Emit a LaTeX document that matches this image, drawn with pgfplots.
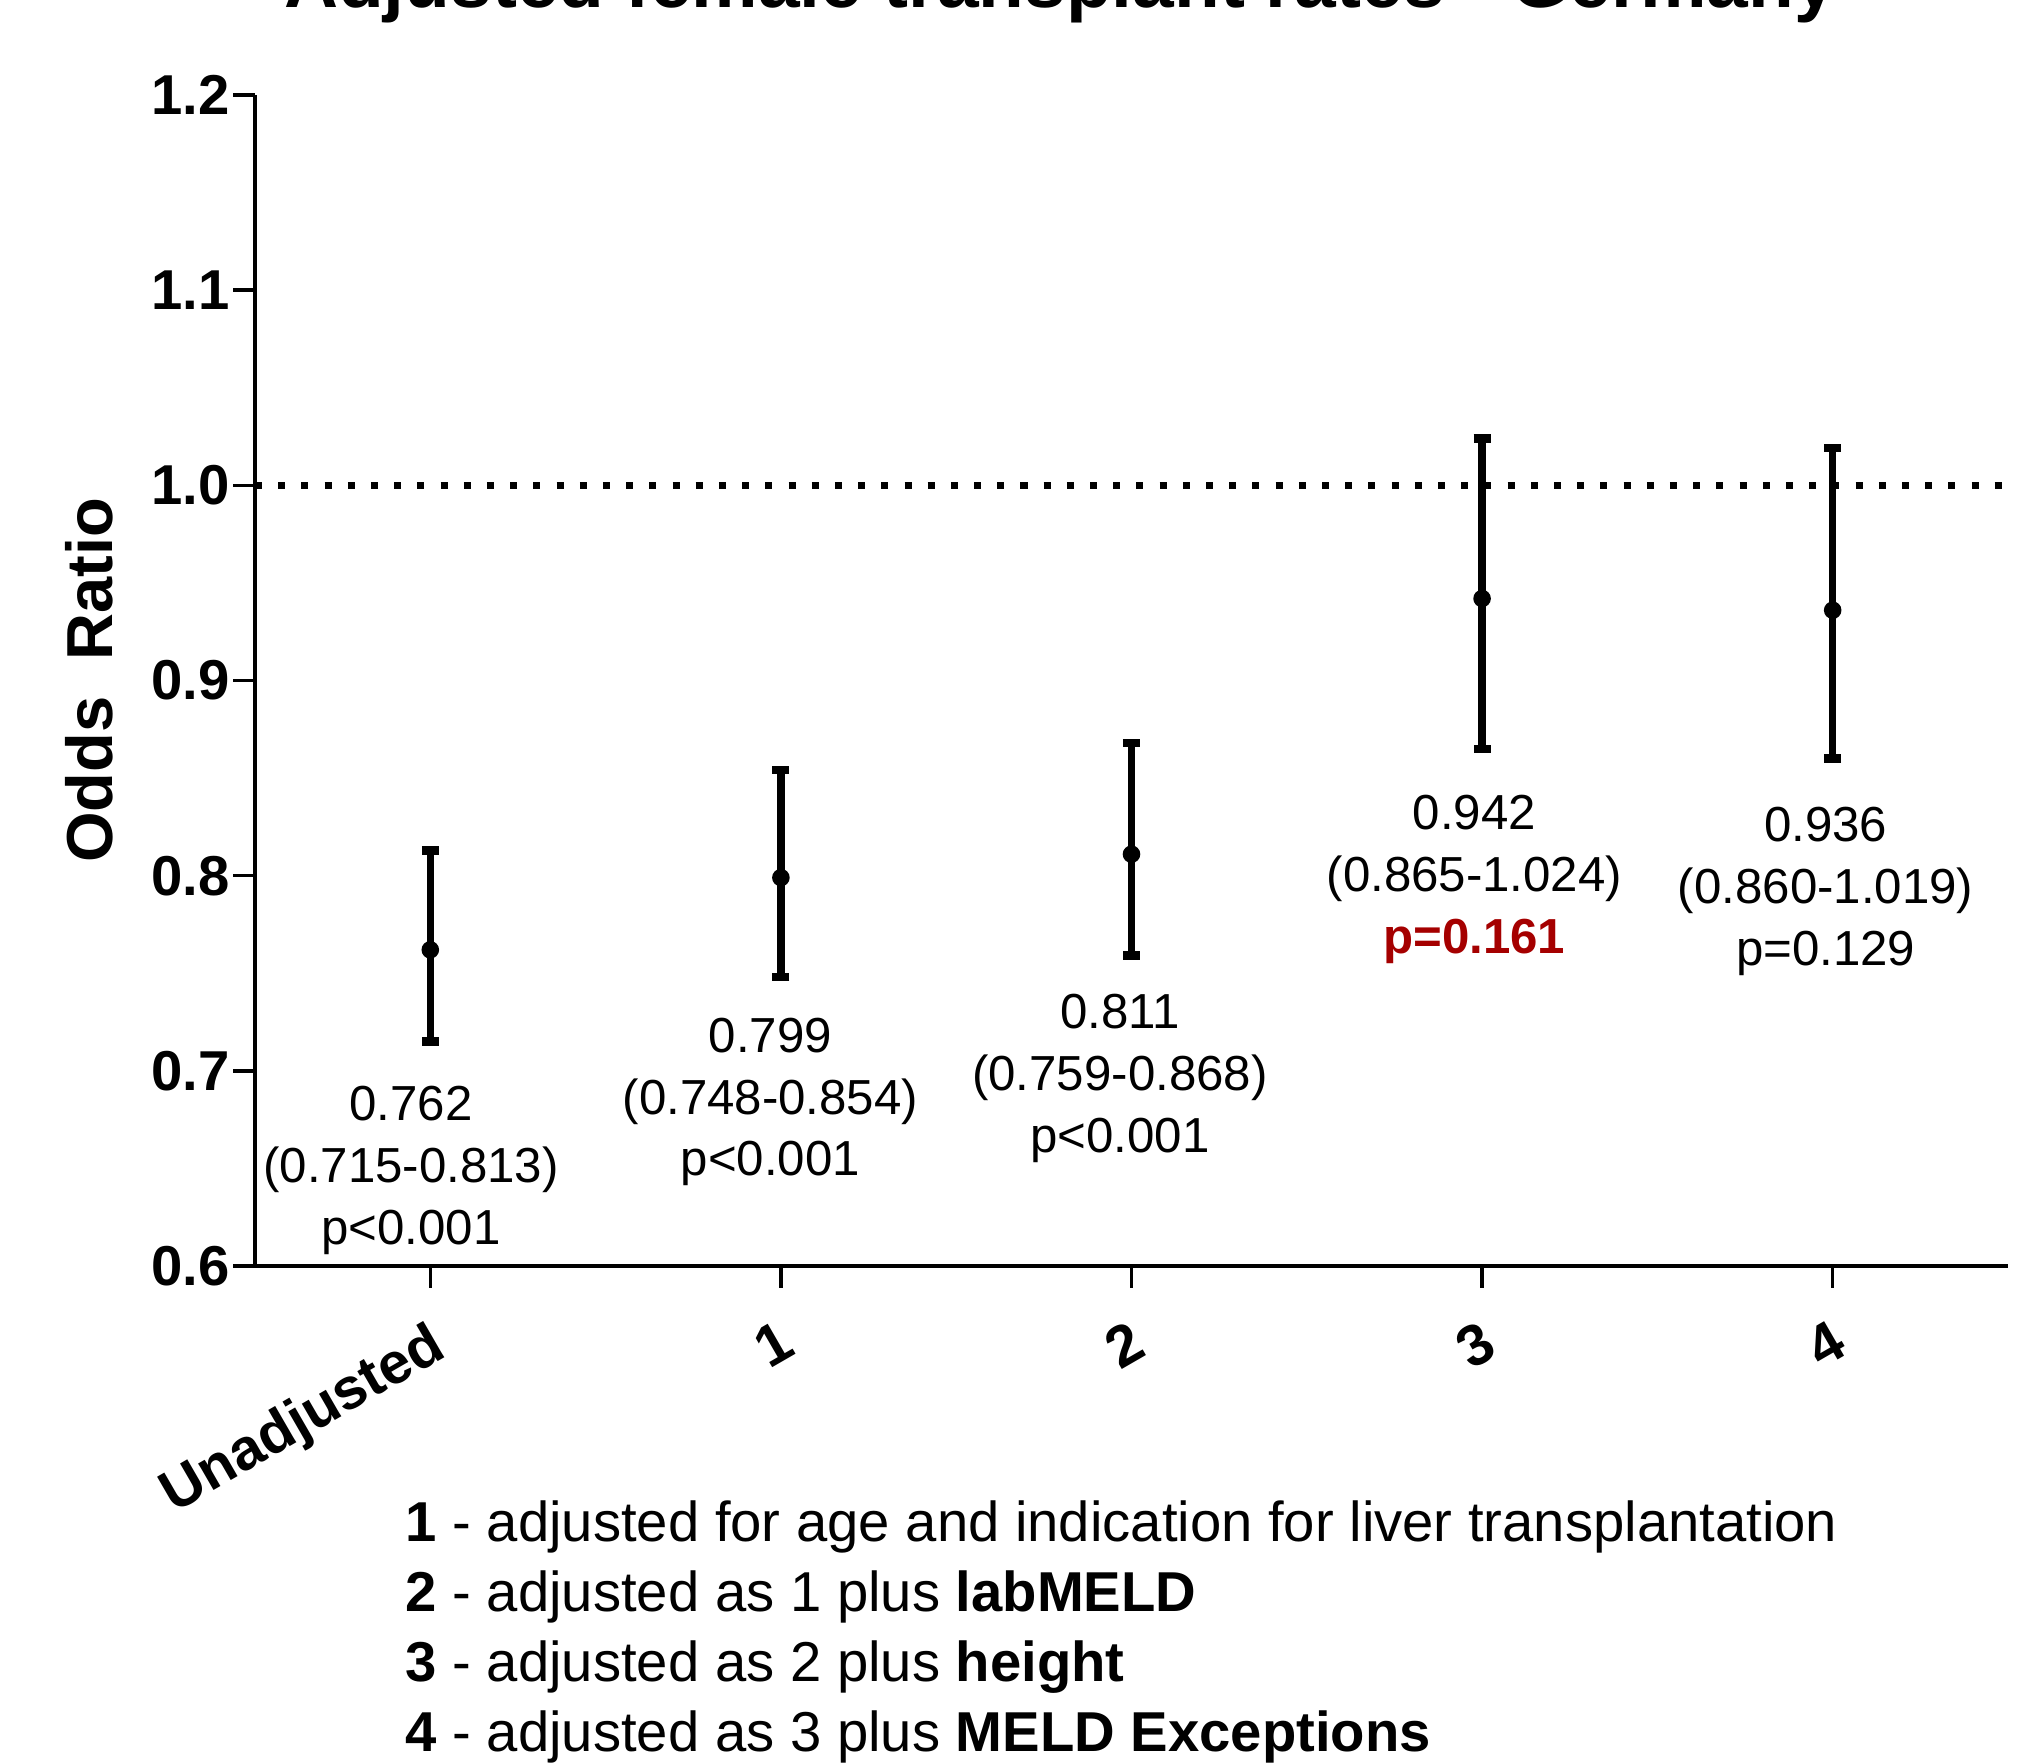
\documentclass[border=0pt]{standalone}
\usepackage{fontspec}
\setmainfont{Liberation Sans}
\usepackage{pgfplots}
\pgfplotsset{compat=1.18}
\definecolor{pred}{RGB}{165,0,0}
\pgfplotstableread{
x    y      ep     em
0    0.762  0.051  0.047
1    0.799  0.055  0.051
2    0.811  0.057  0.052
3    0.942  0.082  0.077
4    0.936  0.083  0.076
}\ordata
\begin{document}
\begin{tikzpicture}
\begin{axis}[
  at={(2.55cm,4.97cm)}, anchor=south west,
  width=17.53cm, height=11.71cm, scale only axis,
  xmin=-0.5, xmax=4.5, ymin=0.6, ymax=1.2,
  axis x line*=bottom, axis y line*=left,
  axis line style={line width=1.2pt, -},
  xtick={0,1,2,3,4}, xticklabels={Unadjusted,1,2,3,4},
  ytick={0.6,0.7,0.8,0.9,1.0,1.1,1.2},
  tick align=outside, major tick length=0.22cm,
  every tick/.style={black, line width=1.0pt},
  /pgf/number format/assume math mode=true,
  yticklabel style={font=\fontsize{16}{18}\selectfont\bfseries, /pgf/number format/fixed, /pgf/number format/fixed zerofill, /pgf/number format/precision=1, inner sep=0pt, xshift=-0.03cm},
  xticklabel style={font=\fontsize{16.5}{19}\selectfont\bfseries, xshift=-0.03cm, yshift=-0.3cm, rotate=30, anchor=north east, inner sep=0pt},
  ylabel={Odds\ \ Ratio},
  ylabel style={font=\fontsize{18.5}{21}\selectfont\bfseries, at={(axis description cs:-0.0945,0.5)}, anchor=center, rotate=0},
  clip=false,
]
\addplot[black, line width=2pt, dash pattern=on 2pt off 4.6pt] coordinates {(-0.5,1.0) (4.5,1.0)};
\addplot[black, only marks, mark=*, mark size=2.3pt,
  error bars/.cd, y dir=both, y explicit, error mark=|,
  error bar style={line width=2.1pt, black},
  error mark options={line width=2.4pt, mark size=0.085cm, black}]
  table[x=x, y=y, y error plus=ep, y error minus=em] {\ordata};
\begin{scope}[every node/.style={font=\fontsize{14}{17.6}\selectfont, align=center, anchor=center}]
\node at (axis cs:-0.055,0.649) {0.762\\(0.715-0.813)\\p<0.001};
\node at (axis cs:0.97,0.684) {0.799\\(0.748-0.854)\\p<0.001};
\node at (axis cs:1.967,0.696) {0.811\\(0.759-0.868)\\p<0.001};
\node at (axis cs:2.978,0.798) {0.942\\(0.865-1.024)\\{\color{pred}\bfseries p=0.161}};
\node at (axis cs:3.98,0.792) {0.936\\(0.860-1.019)\\p=0.129};
\end{scope}
\end{axis}
\node[anchor=base, font=\fontsize{21.3}{25}\selectfont\bfseries] at (10.6cm,17.55cm) {Adjusted female transplant rates - Germany};
\begin{scope}[every node/.style={anchor=base west, font=\fontsize{16}{19.9}\selectfont, inner sep=0pt}]
\node at (4.05cm,2.21cm) {\textbf{1} - adjusted for age and indication for liver transplantation};
\node at (4.05cm,1.51cm) {\textbf{2} - adjusted as 1 plus \textbf{labMELD}};
\node at (4.05cm,0.81cm) {\textbf{3} - adjusted as 2 plus \textbf{height}};
\node at (4.05cm,0.11cm) {\textbf{4} - adjusted as 3 plus \textbf{MELD Exceptions}};
\end{scope}
\pgfresetboundingbox
\useasboundingbox (0,0) rectangle (20.31cm,17.63cm);
\end{tikzpicture}
\end{document}
